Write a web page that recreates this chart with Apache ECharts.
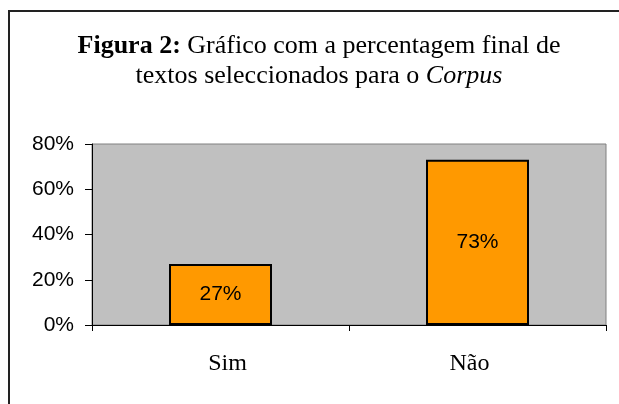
<!DOCTYPE html>
<html>
<head>
<meta charset="utf-8">
<script src="https://cdn.jsdelivr.net/npm/echarts@6/dist/echarts.min.js"></script>
<style>
  html, body { margin: 0; padding: 0; background: #fff; }
  #chart { width: 619px; height: 404px; }
</style>
</head>
<body>
<div id="chart"></div>
<script>
const categories = ['Sim', 'Não'];
const values = [0.27, 0.73];
const yTicks = [0, 0.2, 0.4, 0.6, 0.8];

const chart = echarts.init(document.getElementById('chart'), null, { renderer: 'canvas' });

const pct = v => Math.round(v * 100) + '%';

let option = {
  backgroundColor: '#fff',
  animation: false,
  title: {
    left: 314,
    top: 26,
    textAlign: 'center',
    text: '{b|Figura 2:} Gráfico com a percentagem final de\ntextos seleccionados para o {i|Corpus}',
    textStyle: {
      fontFamily: 'Liberation Serif',
      fontSize: 26,
      fontWeight: 'normal',
      color: '#000',
      lineHeight: 30,
      align: 'center',
      rich: {
        b: { fontFamily: 'Liberation Serif', fontSize: 26, fontWeight: 'bold', color: '#000', lineHeight: 30 },
        i: { fontFamily: 'Liberation Serif', fontSize: 26, fontStyle: 'italic', color: '#000', lineHeight: 30 }
      }
    }
  },
  graphic: [
    // frame round the figure, only top and left edges are in view
    {
      type: 'polyline',
      shape: { points: [[9, 404], [9, 11], [619, 11]] },
      style: { fill: 'none', stroke: '#222', lineWidth: 2 },
      z: 100
    }
  ],
  grid: {
    left: 92,
    top: 144,
    right: 13,
    bottom: 79,
    show: true,
    backgroundColor: '#c0c0c0',
    borderColor: '#808080',
    borderWidth: 1
  },
  xAxis: {
    type: 'category',
    data: categories,
    axisLine: { lineStyle: { color: '#000', width: 1 } },
    axisTick: { show: true, length: 6, lineStyle: { color: '#000' } },
    axisLabel: {
      margin: 27,
      fontFamily: 'Liberation Serif',
      fontSize: 24,
      color: '#000',
      formatter: (v, i) => i === 0 ? '{a|' + v + '}' : '{b|' + v + '}',
      rich: {
        a: { fontFamily: 'Liberation Serif', fontSize: 24, color: '#000', padding: [0, 0, 0, 14] },
        b: { fontFamily: 'Liberation Serif', fontSize: 24, color: '#000', padding: [0, 16, 0, 0] }
      }
    }
  },
  yAxis: {
    type: 'value',
    min: 0,
    max: 0.8,
    interval: 0.2,
    splitLine: { show: false },
    axisLine: { show: true, lineStyle: { color: '#000', width: 1 } },
    axisTick: { show: true, length: 7, lineStyle: { color: '#000' } },
    axisLabel: {
      margin: 18,
      fontFamily: 'Liberation Sans',
      fontSize: 21,
      color: '#000',
      formatter: v => yTicks.indexOf(+v.toFixed(1)) >= 0 ? pct(v) : ''
    }
  },
  series: [
    {
      type: 'bar',
      data: values,
      barWidth: 103,
      itemStyle: { color: '#ff9900', borderColor: '#000', borderWidth: 2 },
      label: {
        show: true,
        position: 'inside',
        fontFamily: 'Liberation Sans',
        fontSize: 21,
        color: '#000',
        formatter: p => pct(p.value)
      }
    }
  ]
};

chart.setOption(option);
</script>
</body>
</html>
